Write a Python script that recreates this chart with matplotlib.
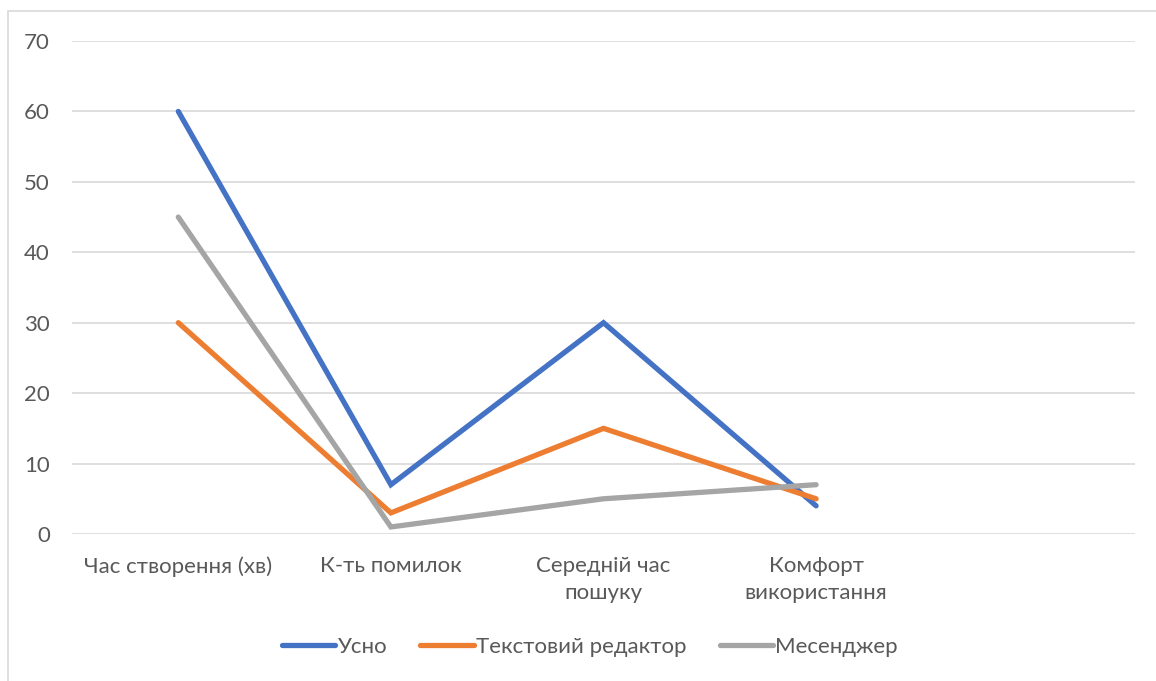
import matplotlib
matplotlib.use("Agg")
import matplotlib.pyplot as plt
from matplotlib.patches import Rectangle

categories = ["Час створення (хв)", "К-ть помилок", "Середній час\nпошуку",
              "Комфорт\nвикористання", ""]
series_names = ["Усно", "Текстовий редактор", "Месенджер"]
usno = [60, 7, 30, 4]
text_editor = [30, 3, 15, 5]
messenger = [45, 1, 5, 7]
colors = ["#4472C4", "#ED7D31", "#A5A5A5"]
yticks = [0, 10, 20, 30, 40, 50, 60, 70]

plt.rcParams["font.family"] = ["Lato", "DejaVu Sans"]
TXT = "#595959"
FS = 16

fig = plt.figure(figsize=(11.56, 6.81), dpi=100)
ax = fig.add_axes([72 / 1156, 1 - 534 / 681, (1135 - 72) / 1156, (534 - 41) / 681])

xs = list(range(len(categories)))
for vals, name, c in zip([usno, text_editor, messenger], series_names, colors):
    ax.plot(xs[:len(vals)], vals, color=c, lw=3.8, label=name,
            solid_capstyle="round", solid_joinstyle="miter")

ax.set_xlim(-0.5, len(categories) - 0.5)
ax.set_ylim(0, 70)
ax.set_yticks(yticks)
ax.set_xticks(xs)
ax.set_xticklabels(categories, fontsize=FS, color=TXT, linespacing=1.45)
ax.tick_params(axis="y", labelsize=FS, labelcolor=TXT, length=0, pad=16)
ax.tick_params(axis="x", length=0, pad=16)
ax.grid(axis="y", color="#D9D9D9", lw=1.2)
ax.set_axisbelow(True)
for s in ax.spines.values():
    s.set_visible(False)

leg = fig.legend(loc="center", bbox_to_anchor=(590 / 1156, 1 - 647 / 681), ncol=3,
                 frameon=False, fontsize=FS, handlelength=2.4, handletextpad=0.1,
                 columnspacing=1.5)
for t in leg.get_texts():
    t.set_color(TXT)

# outer chart border (cropped at right and bottom)
fig.patches.append(Rectangle((8 / 1156, -0.1), 1.2, 1 - 11 / 681 + 0.1,
                             transform=fig.transFigure, fill=False,
                             edgecolor="#D9D9D9", lw=1.2))

fig.savefig("out.png", dpi=100)
